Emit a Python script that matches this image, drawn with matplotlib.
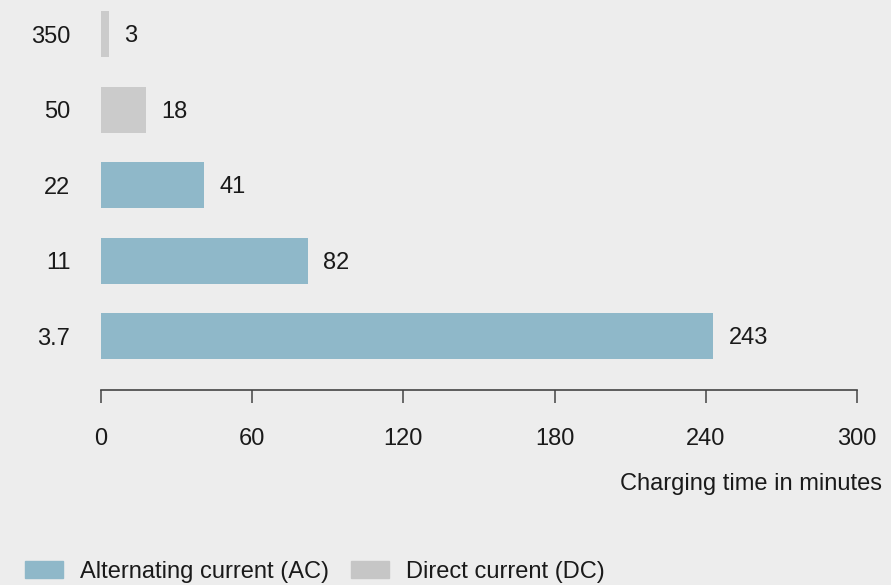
import matplotlib
matplotlib.use("Agg")
import matplotlib.pyplot as plt
from matplotlib.patches import Patch

# charging power in kW, bottom to top
power_labels = ["3.7", "11", "22", "50", "350"]
charge_minutes = [243, 82, 41, 18, 3]
current_type = ["AC", "AC", "AC", "DC", "DC"]

ac_color = "#8fb8c9"
dc_color = "#cbcbcb"
bg_color = "#ededed"

plt.rcParams["font.family"] = ["Liberation Sans", "DejaVu Sans"]
plt.rcParams["font.size"] = 17

fig = plt.figure(figsize=(8.91, 5.85), dpi=100, facecolor=bg_color)
ax = fig.add_axes([101 / 891, 1 - 390 / 585, 756 / 891, 379 / 585])
ax.set_facecolor(bg_color)

ypos = list(range(len(power_labels)))
colors = [ac_color if t == "AC" else dc_color for t in current_type]
ax.barh(ypos, charge_minutes, height=0.61, color=colors)

for y, v in zip(ypos, charge_minutes):
    ax.annotate(str(v), (v, y), xytext=(11, -1.5), textcoords="offset points",
                va="center", ha="left", color="#1a1a1a")

ax.set_xlim(0, 300)
ax.set_ylim(-0.715, 4.31)
ax.set_xticks([0, 60, 120, 180, 240, 300])
ax.set_yticks(ypos)
ax.set_yticklabels(power_labels)

for side in ["top", "right", "left"]:
    ax.spines[side].set_visible(False)
ax.spines["bottom"].set_color("#444444")
ax.spines["bottom"].set_linewidth(1.2)

ax.tick_params(axis="x", length=9.5, width=1.1, color="#444444", pad=18,
               labelcolor="#1a1a1a")
ax.tick_params(axis="y", length=0, pad=22, labelcolor="#1a1a1a")

fig.text(882 / 891, 1 - 484 / 585, "Charging time in minutes",
         ha="right", va="center", color="#1a1a1a")

handles = [Patch(color=ac_color, label="Alternating current (AC)"),
           Patch(color="#c6c6c6", label="Direct current (DC)")]
fig.legend(handles=handles, loc="center left", bbox_to_anchor=(25 / 891, 1 - 572 / 585),
           ncol=2, frameon=False, borderpad=0, borderaxespad=0,
           handlelength=1.6, handleheight=0.76, handletextpad=0.72,
           columnspacing=0.93, labelcolor="#1a1a1a")

fig.savefig("out.png", dpi=100, facecolor=bg_color)
